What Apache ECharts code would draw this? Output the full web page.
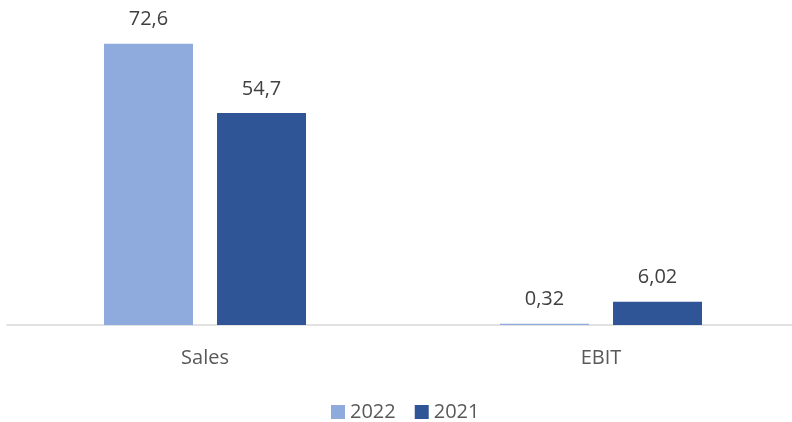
<!DOCTYPE html>
<html>
<head>
<meta charset="utf-8">
<script src="https://cdn.jsdelivr.net/npm/echarts@6/dist/echarts.min.js"></script>
<style>html,body{margin:0;padding:0;background:#fff;overflow:hidden}#c{width:800px;height:422px}</style>
</head>
<body>
<div id="c"></div>
<script>
const categories = ['Sales', 'EBIT'];
const seriesNames = ['2022', '2021'];
const values2022 = [72.6, 0.32];
const values2021 = [54.7, 6.02];
const colors = ['#8FAADC', '#2F5597'];

const fmt = p => String(p.value).replace('.', ',');
const chart = echarts.init(document.getElementById('c'));
chart.setOption({
  animation: false,
  textStyle: { fontFamily: 'Open Sans' },
  grid: { left: 7, width: 792, top: 15, bottom: 97, containLabel: false },
  legend: {
    data: seriesNames,
    top: 402,
    left: 331,
    padding: 0,
    itemWidth: 14, itemHeight: 14, itemGap: 19,
    icon: 'rect',
    textStyle: { fontSize: 20, color: '#595959', fontFamily: 'Open Sans', padding: [0, 0, 0, 0] }
  },
  xAxis: {
    type: 'category',
    data: categories,
    axisLine: { lineStyle: { color: '#d9d9d9', width: 1.5 } },
    axisTick: { show: false },
    axisLabel: { fontSize: 20, color: '#595959', margin: 23, fontFamily: 'Open Sans' }
  },
  yAxis: { type: 'value', min: 0, max: 80, show: false, splitLine: { show: false } },
  series: [
    { name: seriesNames[0], type: 'bar', data: values2022, barWidth: 89, barGap: '27%',
      itemStyle: { color: colors[0] },
      label: { show: true, position: 'top', distance: 14, formatter: fmt, fontSize: 20, color: '#404040', fontFamily: 'Open Sans' } },
    { name: seriesNames[1], type: 'bar', data: values2021, barWidth: 89, barGap: '27%',
      itemStyle: { color: colors[1] },
      label: { show: true, position: 'top', distance: 14, formatter: fmt, fontSize: 20, color: '#404040', fontFamily: 'Open Sans' } }
  ]
});
</script>
</body>
</html>
